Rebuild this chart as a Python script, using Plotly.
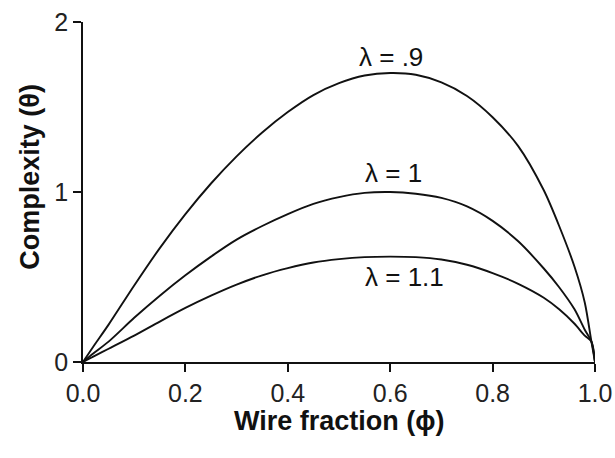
import plotly.graph_objects as go

phi = [0, 0.02, 0.05, 0.1, 0.15, 0.2, 0.25, 0.3, 0.35, 0.4, 0.45, 0.5, 0.55,
       0.6, 0.65, 0.7, 0.75, 0.8, 0.85, 0.9, 0.93, 0.96, 0.98, 0.993, 1.0]
theta_09 = [0, 0.09, 0.22, 0.45, 0.67, 0.87, 1.05, 1.21, 1.35, 1.47, 1.57, 1.64, 1.685,
            1.70, 1.69, 1.645, 1.565, 1.44, 1.27, 1.01, 0.80, 0.56, 0.35, 0.12, 0.0]
theta_10 = [0, 0.05, 0.12, 0.26, 0.39, 0.51, 0.62, 0.72, 0.80, 0.87, 0.93, 0.97, 0.995,
            1.0, 0.99, 0.965, 0.915, 0.83, 0.71, 0.55, 0.44, 0.31, 0.19, 0.12, 0.0]
theta_11 = [0, 0.032, 0.078, 0.155, 0.238, 0.318, 0.39, 0.455, 0.51, 0.552, 0.585, 0.605, 0.617,
            0.62, 0.617, 0.603, 0.572, 0.523, 0.46, 0.378, 0.31, 0.225, 0.155, 0.12, 0.0]

curve_labels = ["λ = .9", "λ = 1", "λ = 1.1"]
label_x = [0.601, 0.607, 0.628]
label_y = [1.794, 1.112, 0.50]

x_ticks = [0, 0.2, 0.4, 0.6, 0.8, 1.0]
x_ticktext = ["0.0", "0.2", "0.4", "0.6", "0.8", "1.0"]
y_ticks = [0, 1, 2]
y_ticktext = ["0", "1", "2"]

FONT = "Liberation Sans, Arial, sans-serif"

fig = go.Figure()
for ys in (theta_09, theta_10, theta_11):
    fig.add_trace(go.Scatter(x=phi, y=ys, mode="lines",
                             line=dict(color="#111", width=1.9, shape="spline", smoothing=0.8),
                             showlegend=False, hoverinfo="skip"))

for t, lx, ly in zip(curve_labels, label_x, label_y):
    fig.add_annotation(x=lx, y=ly, text=t, showarrow=False,
                       font=dict(family=FONT, size=26, color="#111"))

fig.add_annotation(xref="paper", yref="paper", x=0.5, y=-0.1735, yanchor="middle",
                   text="<b>Wire fraction (ϕ)</b>", showarrow=False,
                   font=dict(family=FONT, size=27, color="#111"))
fig.add_annotation(xref="paper", yref="paper", x=-0.1035, y=0.545, xanchor="center",
                   text="<b>Complexity (θ)</b>", showarrow=False, textangle=-90,
                   font=dict(family=FONT, size=27, color="#111"))

fig.update_layout(
    width=615, height=458,
    margin=dict(l=83, r=20, t=22, b=96),
    plot_bgcolor="white", paper_bgcolor="white",
    xaxis=dict(range=[0, 1], tickvals=x_ticks, ticktext=x_ticktext, showgrid=False,
               zeroline=False, showline=True, linecolor="#111", linewidth=1.5,
               ticks="outside", ticklen=8, tickwidth=1.5, tickcolor="#111", automargin=False,
               tickfont=dict(family=FONT, size=25, color="#222")),
    yaxis=dict(range=[0, 2], tickvals=y_ticks, ticktext=y_ticktext, showgrid=False,
               zeroline=False, showline=True, linecolor="#111", linewidth=1.5,
               ticks="outside", ticklen=8, tickwidth=1.5, tickcolor="#111", automargin=False,
               tickfont=dict(family=FONT, size=25, color="#222")),
)

fig.write_html("out.html", config={"displayModeBar": False},
               post_script="document.body.style.margin='0';document.body.style.overflow='hidden';")
